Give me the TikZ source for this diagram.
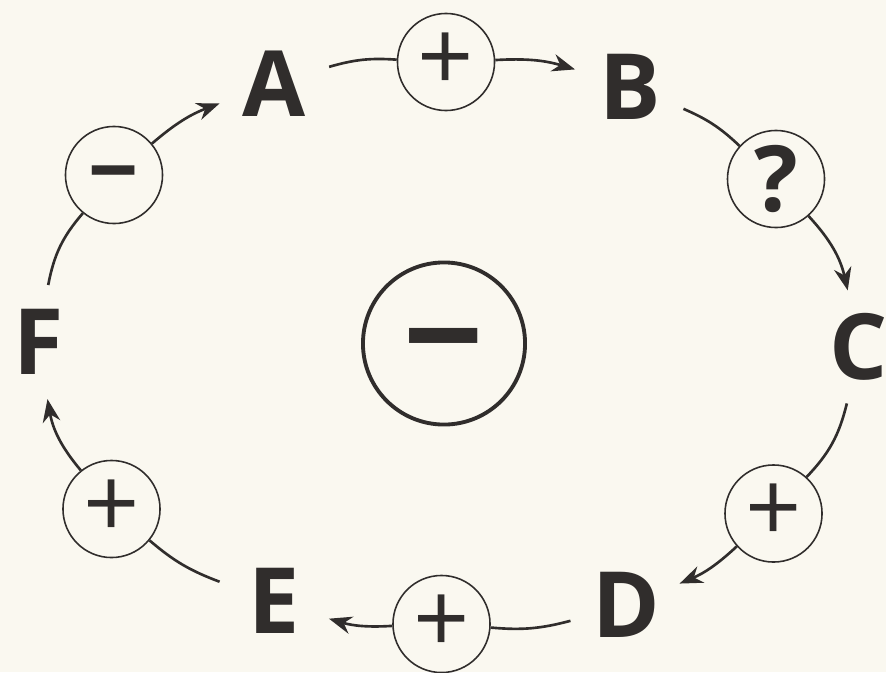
\documentclass[tikz,border=0pt]{standalone}
\usepackage{fontspec}
\newfontfamily\loopfont{Open Sans}
\usetikzlibrary{arrows.meta}
\definecolor{ink}{RGB}{48,45,44}
\definecolor{paper}{RGB}{250,248,240}

\begin{document}
\begin{tikzpicture}[
        x=0.01cm, y=0.01cm,
        var/.style={circle, inner sep=0pt, minimum size=1.14cm, text=ink, font=\loopfont\bfseries\fontsize{26}{26}\selectfont},
        sign/.style={draw=ink, circle, line width=0.45pt, inner sep=0pt, minimum size=0.97cm, text=ink, font=\loopfont\fontsize{28}{28}\selectfont},
        link/.style={draw=ink, line width=0.75pt, bend left=10},
        arr/.style={link, -{Stealth[length=6.5pt,width=5pt]}}
    ]
    \fill[paper] (0,0) rectangle (886,672);
    \useasboundingbox (0,0) rectangle (886,672);

    % variables of the loop
    \node[var] (A) at (274,588) {A};
    \node[var] (B) at (630,585) {B};
    \node[var] (C) at (859,325) {C};
    \node[var] (D) at (626,67) {D};
    \node[var] (E) at (274,71) {E};
    \node[var] (F) at (39,330) {F};

    % signs of the links
    \node[sign] (sAB) at (446,610) {+};
    \node[sign, font=\loopfont\bfseries\fontsize{26}{26}\selectfont] (sBC) at (776,493) {?};
    \node[sign] (sCD) at (773.5,158.5) {+};
    \node[sign] (sDE) at (441.5,48) {+};
    \node[sign] (sEF) at (111.5,163) {+};
    \node[sign, font=\loopfont\bfseries\fontsize{25}{25}\selectfont] (sFA) at (114,497) {\vphantom{+}−};

    % sign of the whole loop
    \node[sign, line width=1.1pt, minimum size=1.62cm, font=\loopfont\bfseries\fontsize{40}{40}\selectfont] (loop) at (444,328.5) {\vphantom{+}−};

    \draw[link] (A) to (sAB);
    \draw[arr] (sAB) to (B);
    \draw[link] (B) to (sBC);
    \draw[arr, bend left=15] (sBC) to (C);
    \draw[link, bend left=15] (C) to (sCD);
    \draw[arr] (sCD) to (D);
    \draw[link] (D) to (sDE);
    \draw[arr] (sDE) to (E);
    \draw[link] (E) to (sEF);
    \draw[arr, bend left=15] (sEF) to (F);
    \draw[link, bend left=15] (F) to (sFA);
    \draw[arr] (sFA) to (A);
\end{tikzpicture}
\end{document}
